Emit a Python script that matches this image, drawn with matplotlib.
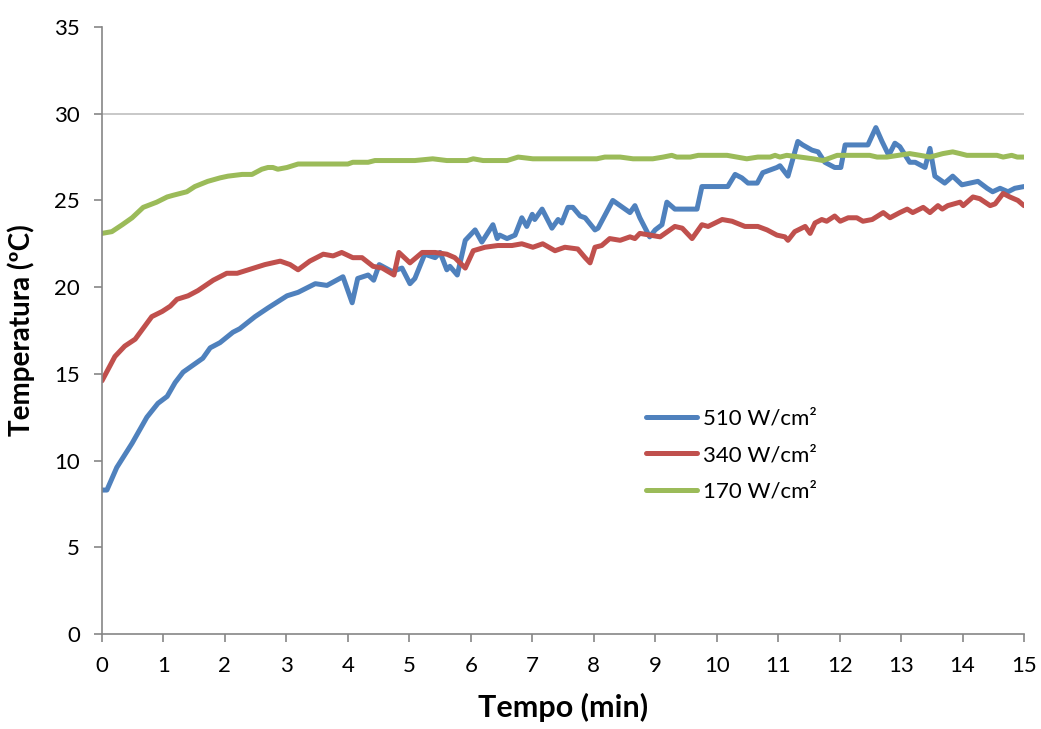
import matplotlib
matplotlib.use("Agg")
import matplotlib.pyplot as plt

plt.rcParams['font.family'] = ['Lato', 'DejaVu Sans']

# --- data (time in min, temperature in °C) ---
t_510 = [0.00, 0.08, 0.24, 0.49, 0.73, 0.91, 1.06, 1.19, 1.32, 1.64, 1.76, 1.92, 2.13, 2.24,
         2.49, 2.70, 3.01, 3.19, 3.47, 3.66, 3.92, 4.07, 4.16, 4.33, 4.42, 4.51, 4.72, 4.88,
         5.01, 5.09, 5.25, 5.42, 5.50, 5.61, 5.66, 5.78, 5.91, 6.07, 6.18, 6.36, 6.43, 6.47,
         6.59, 6.72, 6.83, 6.91, 7.00, 7.04, 7.16, 7.32, 7.42, 7.48, 7.58, 7.66, 7.78, 7.86,
         8.02, 8.07, 8.31, 8.51, 8.59, 8.67, 8.75, 8.91, 9.00, 9.11, 9.19, 9.32, 9.68, 9.76,
         10.18, 10.30, 10.41, 10.51, 10.66, 10.75, 10.98, 11.03, 11.16, 11.32, 11.40, 11.55,
         11.65, 11.76, 11.92, 12.02, 12.09, 12.46, 12.59, 12.69, 12.80, 12.90, 12.98, 13.14,
         13.23, 13.39, 13.47, 13.55, 13.71, 13.84, 13.99, 14.12, 14.25, 14.40, 14.49, 14.61,
         14.74, 14.85, 15.00]
v_510 = [8.3, 8.3, 9.6, 11.0, 12.5, 13.3, 13.7, 14.5, 15.1, 15.9, 16.5, 16.8, 17.4, 17.6,
         18.3, 18.8, 19.5, 19.7, 20.2, 20.1, 20.6, 19.1, 20.5, 20.7, 20.4, 21.3, 20.9, 21.1,
         20.2, 20.5, 21.9, 21.7, 22.0, 21.0, 21.2, 20.7, 22.7, 23.3, 22.6, 23.6, 22.8, 23.0,
         22.8, 23.0, 24.0, 23.5, 24.2, 23.9, 24.5, 23.4, 23.9, 23.7, 24.6, 24.6, 24.1, 24.0,
         23.3, 23.4, 25.0, 24.5, 24.3, 24.7, 24.0, 22.9, 23.3, 23.6, 24.9, 24.5, 24.5, 25.8,
         25.8, 26.5, 26.3, 26.0, 26.0, 26.6, 26.9, 27.0, 26.4, 28.4, 28.2, 27.9,
         27.8, 27.2, 26.9, 26.9, 28.2, 28.2, 29.2, 28.4, 27.6, 28.3, 28.1, 27.2,
         27.2, 26.9, 28.0, 26.4, 26.0, 26.4, 25.9, 26.0, 26.1, 25.7, 25.5, 25.7,
         25.5, 25.7, 25.8]

t_340 = [0.00, 0.21, 0.37, 0.54, 0.81, 0.98, 1.11, 1.22, 1.40, 1.56, 1.81, 2.03, 2.20, 2.38,
         2.65, 2.90, 3.06, 3.19, 3.38, 3.60, 3.76, 3.90, 4.08, 4.23, 4.41, 4.56, 4.75, 4.83,
         5.01, 5.21, 5.42, 5.61, 5.74, 5.91, 6.04, 6.23, 6.44, 6.67, 6.83, 7.01, 7.17, 7.37,
         7.53, 7.74, 7.86, 7.94, 8.02, 8.13, 8.26, 8.43, 8.59, 8.67, 8.75, 9.08, 9.16, 9.32,
         9.44, 9.60, 9.76, 9.86, 10.09, 10.25, 10.46, 10.67, 10.82, 10.98, 11.11, 11.16,
         11.27, 11.44, 11.52, 11.60, 11.71, 11.79, 11.92, 12.01, 12.14, 12.28, 12.38, 12.53,
         12.71, 12.82, 12.98, 13.10, 13.19, 13.36, 13.47, 13.60, 13.67, 13.76, 13.96, 14.01,
         14.17, 14.28, 14.45, 14.53, 14.66, 14.77, 14.90, 15.00]
v_340 = [14.6, 16.0, 16.6, 17.0, 18.3, 18.6, 18.9, 19.3, 19.5, 19.8, 20.4, 20.8, 20.8, 21.0,
         21.3, 21.5, 21.3, 21.0, 21.5, 21.9, 21.8, 22.0, 21.7, 21.7, 21.2, 21.1, 20.7, 22.0,
         21.4, 22.0, 22.0, 21.9, 21.7, 21.1, 22.1, 22.3, 22.4, 22.4, 22.5, 22.3, 22.5, 22.1,
         22.3, 22.2, 21.7, 21.4, 22.3, 22.4, 22.8, 22.7, 22.9, 22.8, 23.1, 22.9, 23.1, 23.5,
         23.4, 22.8, 23.6, 23.5, 23.9, 23.8, 23.5, 23.5, 23.3, 23.0, 22.9, 22.7,
         23.2, 23.5, 23.1, 23.7, 23.9, 23.8, 24.1, 23.8, 24.0, 24.0, 23.8, 23.9,
         24.3, 24.0, 24.3, 24.5, 24.3, 24.6, 24.3, 24.7, 24.5, 24.7, 24.9, 24.7,
         25.2, 25.1, 24.7, 24.8, 25.4, 25.2, 25.0, 24.7]

t_170 = [0.00, 0.16, 0.33, 0.49, 0.67, 0.89, 1.06, 1.16, 1.38, 1.51, 1.72, 1.92, 2.05, 2.28,
         2.44, 2.60, 2.70, 2.78, 2.86, 3.01, 3.19, 4.00, 4.08, 4.33, 4.44, 5.09, 5.38, 5.61,
         5.94, 6.04, 6.20, 6.59, 6.77, 7.01, 8.05, 8.18, 8.43, 8.64, 8.96, 9.13, 9.27, 9.35,
         9.57, 9.70, 10.17, 10.33, 10.49, 10.67, 10.87, 10.95, 11.03, 11.14, 11.36, 11.57,
         11.73, 11.96, 12.49, 12.61, 12.77, 13.14, 13.31, 13.47, 13.68, 13.84, 13.96, 14.07,
         14.56, 14.66, 14.80, 14.89, 15.00]
v_170 = [23.1, 23.2, 23.6, 24.0, 24.6, 24.9, 25.2, 25.3, 25.5, 25.8, 26.1, 26.3, 26.4, 26.5,
         26.5, 26.8, 26.9, 26.9, 26.8, 26.9, 27.1, 27.1, 27.2, 27.2, 27.3, 27.3, 27.4, 27.3,
         27.3, 27.4, 27.3, 27.3, 27.5, 27.4, 27.4, 27.5, 27.5, 27.4, 27.4, 27.5, 27.6, 27.5,
         27.5, 27.6, 27.6, 27.5, 27.4, 27.5, 27.5, 27.6, 27.5, 27.6, 27.5, 27.4,
         27.3, 27.6, 27.6, 27.5, 27.5, 27.7, 27.6, 27.5, 27.7, 27.8, 27.7, 27.6,
         27.6, 27.5, 27.6, 27.5, 27.5]

labels = ["510 W/cm²", "340 W/cm²", "170 W/cm²"]
colors = ["#4F81BD", "#C0504D", "#9BBB59"]
x_ticks = list(range(0, 16))
y_ticks = list(range(0, 36, 5))

W, H = 1041, 729
fig = plt.figure(figsize=(W / 100, H / 100), dpi=100)
ax = fig.add_axes([102 / W, 1 - 634 / H, (1024 - 102) / W, (634 - 27) / H])

for t, v, lab, c in zip([t_510, t_340, t_170], [v_510, v_340, v_170], labels, colors):
    ax.plot(t, v, color=c, lw=3.6, label=lab, solid_joinstyle='round', solid_capstyle='round')

ax.set_xlim(0, 15)
ax.set_ylim(0, 35)
ax.set_xticks(x_ticks)
ax.set_yticks(y_ticks)
ax.axhline(30, color="#BFBFBF", lw=1.2, zorder=0)

spine_c = "#868686"
for s in ["top", "right"]:
    ax.spines[s].set_visible(False)
for s in ["left", "bottom"]:
    ax.spines[s].set_color(spine_c)
    ax.spines[s].set_linewidth(1.2)
ax.tick_params(axis='both', colors=spine_c, labelcolor='black', labelsize=16,
               length=6, width=1.2, direction='out')
ax.tick_params(axis='x', pad=10)
ax.tick_params(axis='y', pad=10)

ax.set_xlabel("Tempo (min)", fontsize=22, fontweight='bold', labelpad=12)
ax.set_ylabel("Temperatura (ºC)", fontsize=20, fontweight='bold', labelpad=14)

leg = ax.legend(loc='center left', bbox_to_anchor=(646 / W, 1 - 455 / H),
                bbox_transform=fig.transFigure, frameon=False, fontsize=16,
                handlelength=2.3, handletextpad=0.25, labelspacing=0.75,
                borderpad=0, borderaxespad=0)

fig.savefig("out.png", dpi=100)
